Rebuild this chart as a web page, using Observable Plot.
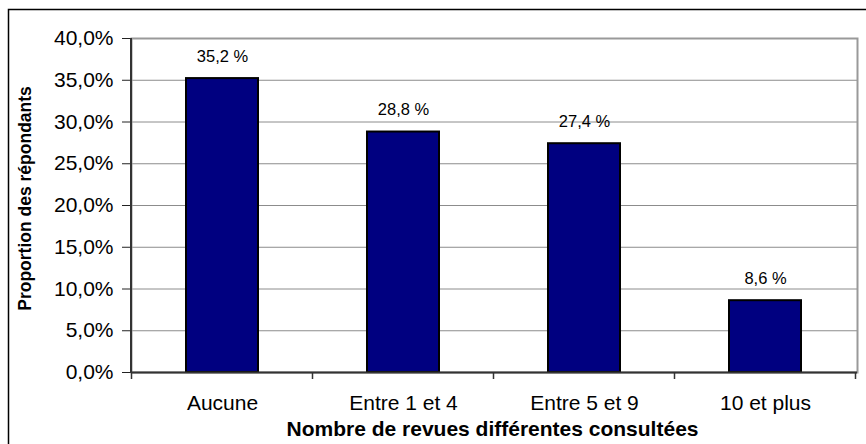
<!DOCTYPE html>
<html>
<head>
<meta charset="utf-8">
<script src="https://cdn.jsdelivr.net/npm/d3@7"></script>
<script src="https://cdn.jsdelivr.net/npm/@observablehq/plot@0.6"></script>
<style>
  html, body { margin: 0; padding: 0; background: white; }
  #chart svg { display: block; }
</style>
</head>
<body>
<div id="chart"></div>
<script>
const categories = ["Aucune", "Entre 1 et 4", "Entre 5 et 9", "10 et plus"];
const values = [35.2, 28.8, 27.4, 8.6];
const valueLabels = ["35,2 %", "28,8 %", "27,4 %", "8,6 %"];
const yTicks = [0, 5, 10, 15, 20, 25, 30, 35, 40];
const yTickLabels = ["0,0%", "5,0%", "10,0%", "15,0%", "20,0%", "25,0%", "30,0%", "35,0%", "40,0%"];
const xTitle = "Nombre de revues différentes consultées";
const yTitle = "Proportion des répondants";

const data = categories.map((c, i) => ({cat: c, val: values[i], label: valueLabels[i]}));
const font = "'Liberation Sans', Arial, sans-serif";

const W = 866, H = 444;
const plot = Plot.plot({
  width: W,
  height: H,
  marginLeft: 131,
  marginRight: 9,
  marginTop: 38,
  marginBottom: 72,
  style: {fontFamily: font, background: "white", color: "black"},
  x: {domain: categories, paddingInner: 0.6, paddingOuter: 0.3, label: null},
  y: {domain: [0, 40], label: null},
  marks: [
    Plot.frame({stroke: "black", strokeWidth: 1.5, insetLeft: -123, insetTop: -29, insetRight: -40, insetBottom: -120}),
    Plot.gridY(yTicks, {stroke: "#8c8c8c", strokeOpacity: 1, strokeWidth: 1}),
    Plot.frame({stroke: "#999", strokeWidth: 2}),
    Plot.axisY({
      ticks: yTicks,
      tickFormat: (d) => yTickLabels[yTicks.indexOf(d)],
      tickSize: 9,
      tickPadding: 9,
      fontSize: 21,
      stroke: "#222",
      label: null
    }),
    Plot.axisX({
      tickSize: 0,
      tickPadding: 23,
      fontSize: 21,
      label: null
    }),
    Plot.barY(data, {x: "cat", y: "val", fill: "#000080", stroke: "black", strokeWidth: 2}),
    Plot.ruleY([0], {stroke: "#333", strokeWidth: 2}),
    Plot.text(data, {x: "cat", y: "val", text: "label", dy: -17, lineAnchor: "bottom", fontSize: 16.5, fill: "black"}),
    Plot.text([xTitle], {frameAnchor: "bottom", dx: -2, dy: 63, lineAnchor: "bottom", fontSize: 21, fontWeight: "bold", fill: "black"}),
    Plot.text([yTitle], {frameAnchor: "left", dx: -106, dy: -7, rotate: -90, textAnchor: "middle", lineAnchor: "middle", fontSize: 17.5, fontWeight: "bold", fill: "black"})
  ]
});

document.getElementById("chart").appendChild(plot);

// Left axis line and category-boundary ticks derived from the Plot scales
const xs = plot.scale("x");
const ys = plot.scale("y");
const svg = d3.select(plot);
const y0 = ys.apply(0), y40 = ys.apply(40);
const left = xs.range[0], right = xs.range[1];
svg.append("line")
  .attr("x1", left).attr("x2", left)
  .attr("y1", y40).attr("y2", y0 + 1)
  .attr("stroke", "#333").attr("stroke-width", 2);
const step = xs.step !== undefined ? xs.step : (right - left) / categories.length;
const bw = xs.bandwidth !== undefined ? xs.bandwidth : step * 0.4;
const bounds = categories.map((c) => xs.apply(c) - (step - bw) / 2);
bounds.push(xs.apply(categories[categories.length - 1]) + bw + (step - bw) / 2);
svg.append("g").selectAll("line").data(bounds).join("line")
  .attr("x1", (d) => d).attr("x2", (d) => d)
  .attr("y1", y0).attr("y2", y0 + 7)
  .attr("stroke", "#333").attr("stroke-width", 1.5);
</script>
</body>
</html>
